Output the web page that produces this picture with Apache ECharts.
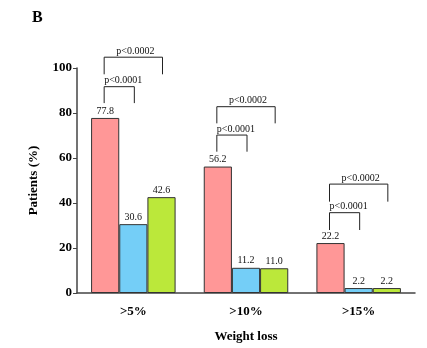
<!DOCTYPE html>
<html><head><meta charset="utf-8">
<script src="https://cdn.jsdelivr.net/npm/echarts@6/dist/echarts.min.js"></script>
<style>html,body{margin:0;padding:0;background:#fff}#c{width:427px;height:348px}</style>
</head><body><div id="c"></div>
<script>
var categories = ['>5%', '>10%', '>15%'];
var redValues = [77.8, 56.2, 22.2];
var blueValues = [30.6, 11.2, 2.2];
var greenValues = [42.6, 11.0, 2.2];
var yTicks = [0, 20, 40, 60, 80, 100];
// brackets: [category index, short bottom, short top, long bottom, long top] in axis values
var brackets = [
  [0, 84.4, 91.7, 97.2, 104.8],
  [1, 62.8, 70.2, 75.4, 82.8],
  [2, 28.0, 35.7, 40.6, 48.4]
];
var shortLabel = 'p<0.0001';
var longLabel = 'p<0.0002';

var FONT = '"Liberation Serif", "Times New Roman", serif';
var chart = echarts.init(document.getElementById('c'), null, {renderer: 'canvas'});

function barSeries(name, data, color) {
  return {
    name: name, type: 'bar', data: data, barGap: '0%', barCategoryGap: '25%',
    itemStyle: {color: color, borderColor: '#333', borderWidth: 1},
    label: {show: true, position: 'top', distance: 2, fontFamily: FONT, fontSize: 10, color: '#111',
      formatter: function (p) { return p.value.toFixed(1); }}
  };
}

chart.setOption({
  animation: false,
  backgroundColor: '#fff',
  title: {text: 'B', left: 27, top: 5, textStyle: {fontFamily: FONT, fontSize: 16, fontWeight: 'bold', color: '#000'}},
  grid: {left: 77, right: 12, top: 68, bottom: 55},
  xAxis: {
    type: 'category', data: categories,
    name: 'Weight loss', nameLocation: 'middle', nameGap: 37,
    nameTextStyle: {fontFamily: FONT, fontSize: 13, fontWeight: 'bold', color: '#000'},
    axisLine: {lineStyle: {color: '#444', width: 1.5}},
    axisTick: {show: false},
    axisLabel: {fontFamily: FONT, fontSize: 13, fontWeight: 'bold', color: '#000', margin: 12}
  },
  yAxis: {
    type: 'value', min: 0, max: 100, interval: 20,
    name: 'Patients (%)', nameLocation: 'middle', nameGap: 37,
    nameTextStyle: {fontFamily: FONT, fontSize: 13, fontWeight: 'bold', color: '#000'},
    axisLine: {show: true, lineStyle: {color: '#444', width: 1.5}},
    axisTick: {show: true, length: 4, lineStyle: {color: '#444'}},
    splitLine: {show: false},
    axisLabel: {fontFamily: FONT, fontSize: 13, fontWeight: 'bold', color: '#000', margin: 5,
      formatter: function (v) { return yTicks.indexOf(v) >= 0 ? String(v) : ''; }}
  },
  series: [
    barSeries('A', redValues, '#FF9797'),
    barSeries('B', blueValues, '#74CEF7'),
    barSeries('C', greenValues, '#BBE83A'),
    {
      type: 'custom', clip: false, z: 5,
      data: brackets,
      encode: {x: 0, y: 1},
      renderItem: function (params, api) {
        var ci = api.value(0);
        var band = api.size([1, 0])[0];
        var bw = band * 0.25;
        var c = api.coord([ci, 0])[0];
        var xl = c - bw - 1, xs = c + 1, xg = c + bw + 1;
        var sb = api.coord([ci, api.value(1)])[1];
        var st = api.coord([ci, api.value(2)])[1];
        var lb = api.coord([ci, api.value(3)])[1];
        var lt = api.coord([ci, api.value(4)])[1];
        var ls = {stroke: '#222', lineWidth: 1, fill: null};
        return {
          type: 'group',
          children: [
            {type: 'polyline', shape: {points: [[xl, sb], [xl, st], [xs, st], [xs, sb]]}, style: ls},
            {type: 'polyline', shape: {points: [[xl, lb], [xl, lt], [xg, lt], [xg, lb]]}, style: ls},
            {type: 'text', style: {text: shortLabel, x: xl, y: st - 1, align: 'left', verticalAlign: 'bottom',
              font: '10px ' + FONT, fill: '#111'}},
            {type: 'text', style: {text: longLabel, x: (xl + xg) / 2 + 2, y: lt - 1, align: 'center', verticalAlign: 'bottom',
              font: '10px ' + FONT, fill: '#111'}}
          ]
        };
      }
    }
  ]
});
</script></body></html>
